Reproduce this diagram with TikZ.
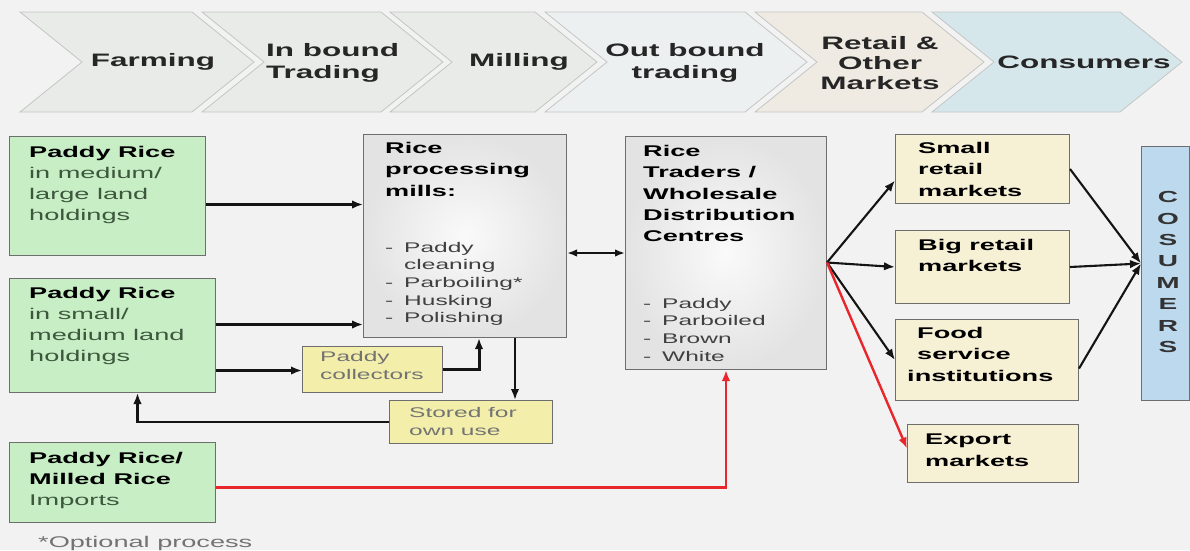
\documentclass[tikz,border=0pt]{standalone}
\usepackage{fontspec}
\setmainfont{Liberation Sans}[FakeStretch=1.75]
\usepackage{tikz}
\usetikzlibrary{arrows.meta}

\definecolor{bgc}{RGB}{242,242,242}
\definecolor{chevA}{RGB}{233,235,232}
\definecolor{chevB}{RGB}{237,240,240}
\definecolor{chevC}{RGB}{239,235,227}
\definecolor{chevD}{RGB}{214,231,236}
\definecolor{chevline}{RGB}{196,198,196}
\definecolor{boxline}{RGB}{110,110,110}
\definecolor{greenfill}{RGB}{199,238,197}
\definecolor{greentext}{RGB}{62,88,62}
\definecolor{yellowfill}{RGB}{243,239,171}
\definecolor{beigefill}{RGB}{246,240,213}
\definecolor{bluefill}{RGB}{189,217,238}
\definecolor{arrowc}{RGB}{20,20,20}
\definecolor{importred}{RGB}{232,38,43}

% one step of the value chain banner: left x, right x, fill
\newcommand{\chevron}[3]{%
  \filldraw[fill=#3, draw=chevline, line width=0.8pt]
    (#1,12) -- (#2,12) -- (#2+62,62) -- (#2,112) -- (#1,112) -- (#1+62,62) -- cycle;}
\newcommand{\itm}[1]{\makebox[19pt][l]{-}#1}
\newcommand{\itc}[1]{\hspace*{19pt}#1}

\tikzset{
  box/.style={draw=boxline, line width=1pt, inner sep=0pt, anchor=north west},
  greenbox/.style={box, fill=greenfill},
  yellowbox/.style={box, fill=yellowfill},
  beigebox/.style={box, fill=beigefill},
  greybox/.style={box, shade, shading=radial, inner color=gray!4, outer color=gray!22},
  hdr/.style={font=\fontsize{18}{21.5}\selectfont\bfseries, text=black!85, inner sep=0pt},
  ttl/.style={font=\fontsize{15.5}{21.3}\selectfont\bfseries, align=left, inner sep=0pt, anchor=north west},
  txt/.style={font=\fontsize{15.5}{21}\selectfont, text=greentext, align=left, inner sep=0pt, anchor=north west},
  lst/.style={font=\fontsize{14}{17.6}\selectfont, text=black!75, align=left, inner sep=0pt, anchor=north west},
  note/.style={font=\fontsize{14}{18.5}\selectfont, text=black!55, align=left, inner sep=0pt, anchor=north west},
  arr/.style={line width=2.1pt, draw=arrowc, -{Latex[length=11pt,width=8.5pt]}},
  arrthick/.style={arr, line width=3pt},
  dblarr/.style={line width=2.1pt, draw=arrowc, {Latex[length=10pt,width=7.5pt]}-{Latex[length=10pt,width=7.5pt]}},
  redarr/.style={line width=2.4pt, draw=importred, -{Latex[length=11pt,width=8.5pt]}},
}

\begin{document}
\begin{tikzpicture}[x=1pt, y=-1pt]
  \useasboundingbox (0,0) rectangle (1190,550);
  \fill[bgc] (0,0) rectangle (1190,550);

  % banner
  \chevron{20}{192}{chevA}
  \chevron{202}{381}{chevA}
  \chevron{390}{535}{chevA}
  \chevron{545}{745}{chevB}
  \chevron{755}{922}{chevC}
  \chevron{932}{1120}{chevD}
  \node[hdr] (hfarm) at (153,62) {Farming};
  \node[hdr, align=left, anchor=west] (hinb) at (266,63) {In bound\\Trading};
  \node[hdr] (hmill) at (519,62) {Milling};
  \node[hdr, align=center] (houtb) at (685,63) {Out bound\\trading};
  \node[hdr, align=center, font=\fontsize{18}{20}\selectfont\bfseries] (hretail) at (880,63) {Retail \&\\Other\\Markets};
  \node[hdr] (hcons) at (1084,62) {Consumers};

  % producers
  \node[greenbox, minimum width=196pt, minimum height=119pt] (farmA) at (9,136) {};
  \node[txt] (farmAtxt) at (29,146) {\textcolor{black}{\textbf{Paddy Rice}}\\in medium/\\large land\\holdings};
  \node[greenbox, minimum width=206pt, minimum height=114pt] (farmB) at (9,278) {};
  \node[txt] (farmBtxt) at (29,287) {\textcolor{black}{\textbf{Paddy Rice}}\\in small/\\medium land\\holdings};
  \node[greenbox, minimum width=206pt, minimum height=80pt] (imports) at (9,442) {};
  \node[txt] (importstxt) at (29,452) {\textcolor{black}{\textbf{Paddy Rice/}}\\\textcolor{black}{\textbf{Milled Rice}}\\Imports};
  \node[note, font=\fontsize{15.5}{19}\selectfont] (footnote) at (38,536) {*Optional process};

  % milling
  \node[greybox, minimum width=203pt, minimum height=203pt] (mill) at (363,134) {};
  \node[ttl] (milltxt) at (385,142) {Rice\\processing\\mills:};
  \node[lst] (millitems) at (385,242) {\itm{Paddy}\\\itc{cleaning}\\\itm{Parboiling*}\\\itm{Husking}\\\itm{Polishing}};
  \node[yellowbox, minimum width=140pt, minimum height=46pt] (collect) at (302,346) {};
  \node[note] (collecttxt) at (320,351) {Paddy\\collectors};
  \node[yellowbox, minimum width=163pt, minimum height=43pt] (stored) at (389,400) {};
  \node[note] (storedtxt) at (409,407) {Stored for\\own use};

  % trading
  \node[greybox, minimum width=201pt, minimum height=233pt] (traders) at (625,136) {};
  \node[ttl] (traderstxt) at (643,145) {Rice\\Traders /\\Wholesale\\Distribution\\Centres};
  \node[lst] (tradersitems) at (643,298) {\itm{Paddy}\\\itm{Parboiled}\\\itm{Brown}\\\itm{White}};

  % markets
  \node[beigebox, minimum width=174pt, minimum height=69pt] (small) at (895,134) {};
  \node[ttl] (smalltxt) at (918,142) {Small\\retail\\markets};
  \node[beigebox, minimum width=174pt, minimum height=73pt] (big) at (895,230) {};
  \node[ttl] (bigtxt) at (918,239) {Big retail\\markets};
  \node[beigebox, minimum width=183pt, minimum height=81pt] (food) at (895,319) {};
  \node[ttl] (foodtxt) at (907,327) {\hspace*{10pt}Food\\\hspace*{10pt}service\\institutions};
  \node[beigebox, minimum width=171pt, minimum height=58pt] (export) at (907,424) {};
  \node[ttl] (exporttxt) at (925,434) {Export\\markets};
  \node[box, fill=bluefill, minimum width=48pt, minimum height=254pt] (cons) at (1141,146) {};
  \node[font=\fontsize{16}{21.4}\selectfont\bfseries, text=black!80, align=center, inner sep=0pt] (constxt) at (1168,272) {C\\O\\S\\U\\M\\E\\R\\S};

  % flows
  \draw[arr] ([yshift=-8.5pt]farmA.east) coordinate (a1) -- (a1 -| mill.west);
  \draw[arr] ([yshift=11pt]farmB.east) coordinate (b1) -- (b1 -| mill.west);
  \draw[arr] ([yshift=-35pt]farmB.east) coordinate (b2) -- (b2 -| collect.west);
  \draw[arrthick] (collect.east) -| ([xshift=14pt]mill.south);
  \draw[arr] ([xshift=50pt]mill.south) coordinate (m1) -- (m1 |- stored.north);
  \draw[arr] (stored.west) -| ([xshift=25pt]farmB.south);
  \draw[dblarr] (traders.west -| mill.east) -- (traders.west);
  \draw[redarr] ([yshift=-5pt]imports.east) -| (traders.south);

  \coordinate (hub) at ([yshift=-9.5pt]traders.east);
  \coordinate (sink) at ([yshift=10pt]cons.west);
  \draw[arr] (hub) -- ([yshift=-11.5pt]small.west);
  \draw[arr] (hub) -- (big.west);
  \draw[arr] (hub) -- (food.west);
  \draw[redarr] (hub) -- ([yshift=5pt]export.west);
  \draw[arr] (small.east) -- (sink);
  \draw[arr] (big.east) -- (sink);
  \draw[arr] ([yshift=-8.5pt]food.east) -- (sink);
\end{tikzpicture}
\end{document}
